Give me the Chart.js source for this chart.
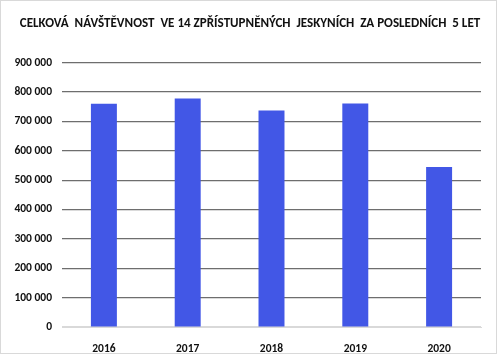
<!DOCTYPE html>
<html>
<head>
<meta charset="utf-8">
<script src="https://cdn.jsdelivr.net/npm/chart.js@4"></script>
<style>
html,body{margin:0;padding:0;background:#fff;}
#wrap{position:relative;width:500px;height:356px;}
#frame{position:absolute;left:0;top:0;width:495px;height:352px;border:1px solid #d9d9d9;pointer-events:none;}
canvas{position:absolute;left:0;top:0;}
</style>
</head>
<body>
<div id="wrap"><canvas id="c" width="500" height="356"></canvas><div id="frame"></div></div>
<script>
const titleText = "CELKOVÁ  NÁVŠTĚVNOST  VE 14 ZPŘÍSTUPNĚNÝCH  JESKYNÍCH  ZA POSLEDNÍCH  5 LET";
const years = ["2016", "2017", "2018", "2019", "2020"];
const visitors = [760000, 778000, 737000, 761000, 545000];
const yTicks = [0, 100000, 200000, 300000, 400000, 500000, 600000, 700000, 800000, 900000];

const FONT = "Carlito, Lato, 'Liberation Sans', sans-serif";
function fmt(v){ return String(v).replace(/\B(?=(\d{3})+(?!\d))/g, " "); }

new Chart(document.getElementById('c'), {
  type: 'bar',
  data: {
    labels: years,
    datasets: [{
      data: visitors,
      backgroundColor: '#4257E6',
      borderWidth: 0,
      barPercentage: 0.31,
      categoryPercentage: 1.0
    }]
  },
  options: {
    responsive: false,
    animation: false,
    layout: { padding: { left: 0, right: 0, top: 0, bottom: 0 } },
    plugins: {
      legend: { display: false },
      tooltip: { enabled: false },
      title: {
        display: true,
        text: titleText,
        color: '#111',
        font: { family: FONT, size: 13.05, weight: 'bold', lineHeight: 1.2 },
        padding: { top: 16, bottom: 31 }
      }
    },
    scales: {
      x: {
        grid: { display: false },
        border: { display: true, color: '#d9d9d9', width: 1 },
        ticks: { color: '#111', font: { family: FONT, size: 11.5, weight: 'bold' }, padding: 7 },
        afterFit: s => { s.height = 29; }
      },
      y: {
        min: 0, max: 900000,
        afterBuildTicks: s => { s.ticks = yTicks.map(v => ({ value: v })); },
        grid: {
          drawTicks: false,
          color: c => (c.tick && c.tick.value === 0) ? '#d9d9d9' : '#6e6e6e',
          lineWidth: 1.2
        },
        border: { display: false },
        ticks: {
          color: '#111',
          font: { family: FONT, size: 11.5, weight: 'bold' },
          padding: 10,
          callback: v => fmt(v)
        },
        afterFit: s => { s.width = 62; }
      },
      yRight: {
        position: 'right',
        display: true,
        min: 0, max: 1,
        grid: { display: false },
        border: { display: false },
        ticks: { display: false },
        afterFit: s => { s.width = 19; }
      }
    }
  }
});
</script>
</body>
</html>
